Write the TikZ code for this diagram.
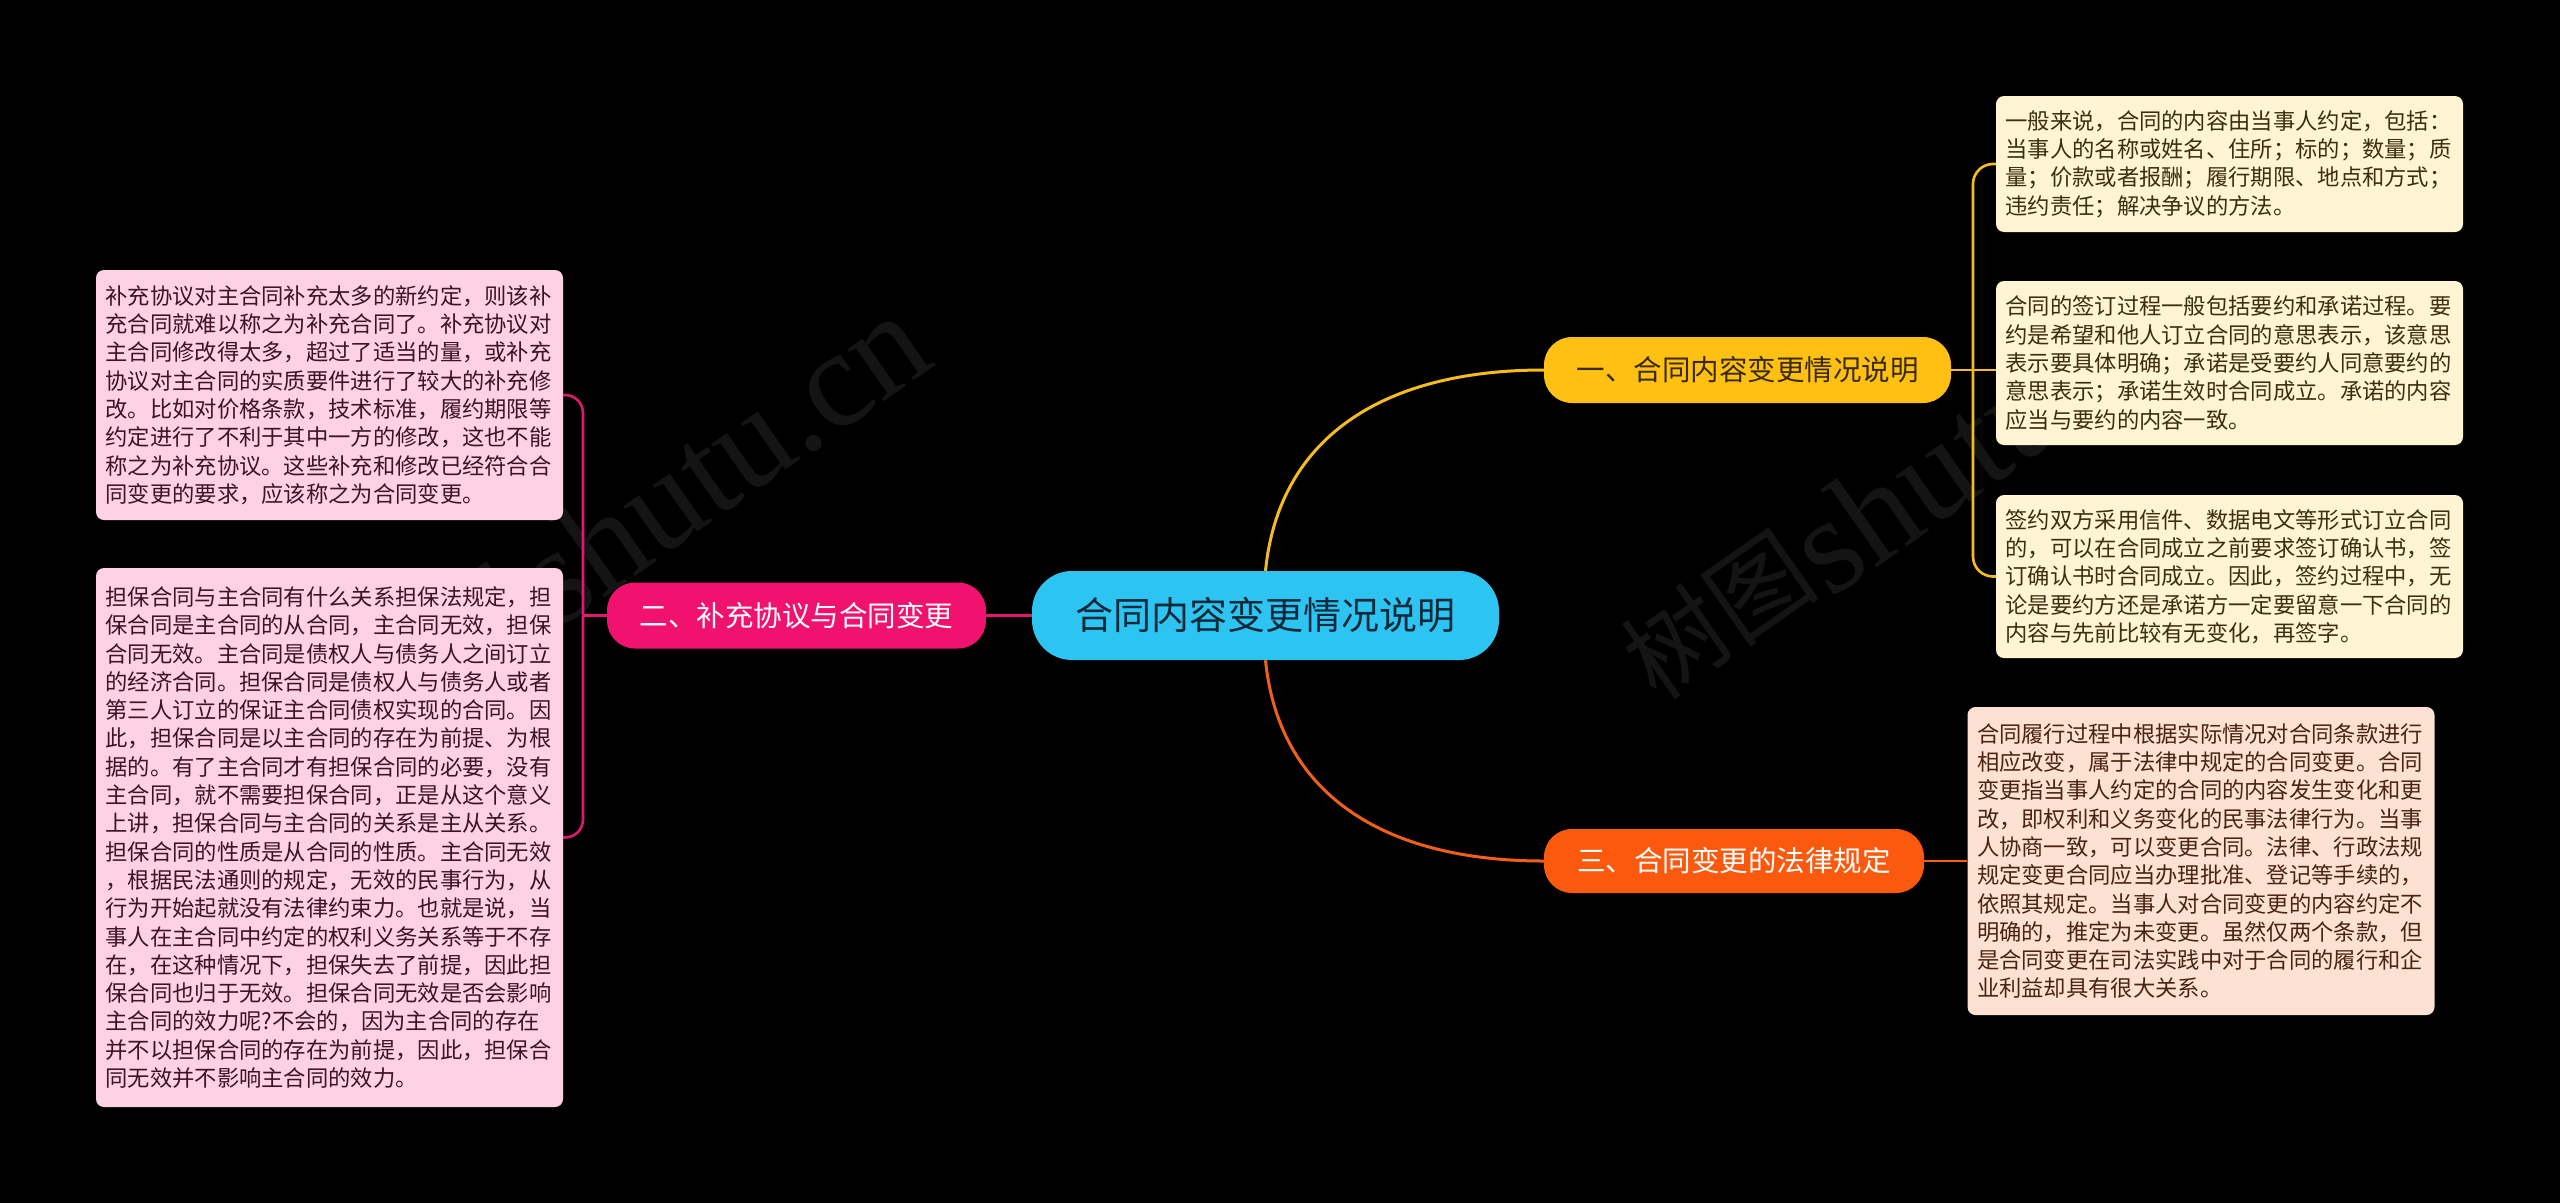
\documentclass[tikz,border=0pt]{standalone}
\usepackage{fontspec}
\setmainfont{Noto Sans CJK SC}
\newfontfamily\wmlatin{Liberation Serif}
\definecolor{bgc}{HTML}{000000}
\definecolor{cfill}{HTML}{2EC4F2}
\definecolor{ctext}{HTML}{0E2A3A}
\definecolor{yfill}{HTML}{FEC113}
\definecolor{ytext}{HTML}{3A2A05}
\definecolor{pfill}{HTML}{F0126E}
\definecolor{ofill}{HTML}{FB5A0E}
\definecolor{yline}{HTML}{F5BC1E}
\definecolor{pline}{HTML}{E0186E}
\definecolor{oline}{HTML}{F0601A}
\definecolor{yleaf}{HTML}{FFF4D3}
\definecolor{yleaftext}{HTML}{3D2E10}
\definecolor{pleaf}{HTML}{FFD1E4}
\definecolor{pleaftext}{HTML}{3B1428}
\definecolor{oleaf}{HTML}{FDE1D3}
\definecolor{oleaftext}{HTML}{4A2412}
\begin{document}
\begin{tikzpicture}[x=1pt,y=-1pt,
  centralbox/.style={fill=cfill, text=ctext, rounded corners=40pt, minimum width=467pt, minimum height=89pt, inner sep=0pt, font=\fontsize{38pt}{44pt}\selectfont},
  branchbox/.style={rounded corners=28pt, minimum height=66pt, inner sep=0pt, font=\fontsize{28.5pt}{34pt}\selectfont},
  leafbox/.style={rounded corners=8pt, text width=448pt, inner xsep=9.5pt, inner ysep=0pt, align=left, minimum width=467pt, font=\fontsize{22.3pt}{28.3pt}\selectfont},
  yleafbox/.style={leafbox, fill=yleaf, text=yleaftext},
  pleafbox/.style={leafbox, fill=pleaf, text=pleaftext},
  oleafbox/.style={leafbox, fill=oleaf, text=oleaftext},
  ylink/.style={draw=yline, line width=3pt},
  plink/.style={draw=pline, line width=3pt},
  olink/.style={draw=oline, line width=3pt},
  wmcjk/.style={text=gray, text opacity=0.16, inner sep=0pt, rotate=35, font=\fontsize{100pt}{100pt}\selectfont},
  wmlat/.style={text=gray, text opacity=0.16, inner sep=0pt, rotate=35, anchor=base west, font=\wmlatin\fontsize{138pt}{138pt}\selectfont}
]
\useasboundingbox (0,0) rectangle (2560,1203);
\fill[bgc] (0,0) rectangle (2560,1203);

% watermarks (behind everything)
\node[wmcjk] (wm1a) at (436,648) {树图};
\node[wmlat] (wm1b) at (558,630) {shutu.cn};
\node[wmcjk] (wm2a) at (1718,614) {树图};
\node[wmlat] (wm2b) at (1830,600) {shutu.cn};

% main nodes
\node[centralbox] (c) at (1265.5,615.5) {合同内容变更情况说明};
\node[branchbox, fill=yfill, text=ytext, minimum width=407pt] (b1) at (1747.5,370) {一、合同内容变更情况说明};
\node[branchbox, fill=pfill, text=white, minimum width=379pt] (b2) at (796.5,615.5) {二、补充协议与合同变更};
\node[branchbox, fill=ofill, text=white, minimum width=380pt, minimum height=64pt] (b3) at (1734,861) {三、合同变更的法律规定};

% leaves
\node[pleafbox, minimum height=250pt] (l1) at (329.5,395) {补充协议对主合同补充太多的新约定，则该补\\
充合同就难以称之为补充合同了。补充协议对\\
主合同修改得太多，超过了适当的量，或补充\\
协议对主合同的实质要件进行了较大的补充修\\
改。比如对价格条款，技术标准，履约期限等\\
约定进行了不利于其中一方的修改，这也不能\\
称之为补充协议。这些补充和修改已经符合合\\
同变更的要求，应该称之为合同变更。};

\node[pleafbox, minimum height=539pt] (l2) at (329.5,837.5) {担保合同与主合同有什么关系担保法规定，担\\
保合同是主合同的从合同，主合同无效，担保\\
合同无效。主合同是债权人与债务人之间订立\\
的经济合同。担保合同是债权人与债务人或者\\
第三人订立的保证主合同债权实现的合同。因\\
此，担保合同是以主合同的存在为前提、为根\\
据的。有了主合同才有担保合同的必要，没有\\
主合同，就不需要担保合同，正是从这个意义\\
上讲，担保合同与主合同的关系是主从关系。\\
担保合同的性质是从合同的性质。主合同无效\\
，根据民法通则的规定，无效的民事行为，从\\
行为开始起就没有法律约束力。也就是说，当\\
事人在主合同中约定的权利义务关系等于不存\\
在，在这种情况下，担保失去了前提，因此担\\
保合同也归于无效。担保合同无效是否会影响\\
主合同的效力呢?不会的，因为主合同的存在\\
并不以担保合同的存在为前提，因此，担保合\\
同无效并不影响主合同的效力。};

\node[yleafbox, minimum height=136pt] (r1) at (2229.5,164) {一般来说，合同的内容由当事人约定，包括：\\
当事人的名称或姓名、住所；标的；数量；质\\
量；价款或者报酬；履行期限、地点和方式；\\
违约责任；解决争议的方法。};

\node[yleafbox, minimum height=164pt] (r2) at (2229.5,363) {合同的签订过程一般包括要约和承诺过程。要\\
约是希望和他人订立合同的意思表示，该意思\\
表示要具体明确；承诺是受要约人同意要约的\\
意思表示；承诺生效时合同成立。承诺的内容\\
应当与要约的内容一致。};

\node[yleafbox, minimum height=163pt] (r3) at (2229.5,576.5) {签约双方采用信件、数据电文等形式订立合同\\
的，可以在合同成立之前要求签订确认书，签\\
订确认书时合同成立。因此，签约过程中，无\\
论是要约方还是承诺方一定要留意一下合同的\\
内容与先前比较有无变化，再签字。};

\node[oleafbox, minimum height=308pt] (r4) at (2201,861) {合同履行过程中根据实际情况对合同条款进行\\
相应改变，属于法律中规定的合同变更。合同\\
变更指当事人约定的合同的内容发生变化和更\\
改，即权利和义务变化的民事法律行为。当事\\
人协商一致，可以变更合同。法律、行政法规\\
规定变更合同应当办理批准、登记等手续的，\\
依照其规定。当事人对合同变更的内容约定不\\
明确的，推定为未变更。虽然仅两个条款，但\\
是合同变更在司法实践中对于合同的履行和企\\
业利益却具有很大关系。};

% connectors
\draw[ylink] (c.north) .. controls +(13,-131) and +(-164,0) .. (b1.west);
\draw[olink] (c.south) .. controls +(13,131) and +(-164,0) .. (b3.west);
\draw[plink] (c.west) -- (b2.east);

\coordinate (jr) at (1973,370);
\draw[ylink, line width=2.6pt] (b1.east) -- (jr);
\draw[ylink, line width=2.6pt, rounded corners=20pt] (jr) |- (r1.west);
\draw[ylink, line width=2.6pt] (jr) -- (r2.west |- jr);
\draw[ylink, line width=2.6pt, rounded corners=20pt] (jr) |- (r3.west);

\coordinate (jl) at (583,615.5);
\draw[plink, line width=2.6pt] (b2.west) -- (jl);
\draw[plink, line width=2.6pt, rounded corners=18pt] (jl) |- (l1.east);
\draw[plink, line width=2.6pt, rounded corners=18pt] (jl) |- (l2.east);

\draw[olink, line width=2.6pt] (b3.east) -- (r4.west);
\end{tikzpicture}
\end{document}
